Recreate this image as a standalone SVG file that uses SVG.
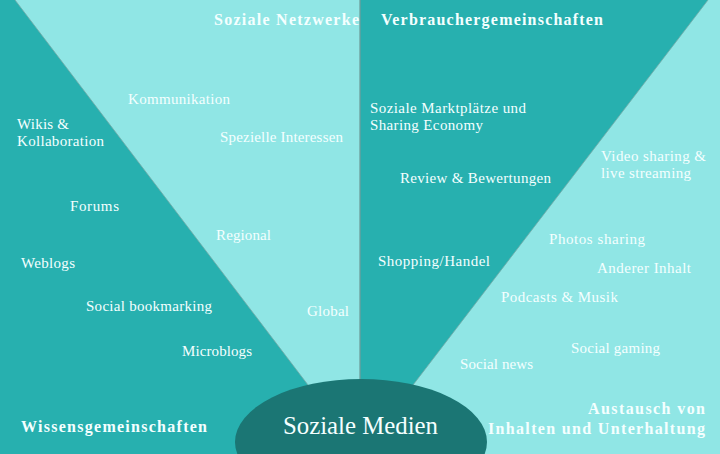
<svg xmlns="http://www.w3.org/2000/svg" width="720" height="454" viewBox="0 0 720 454">
<style>
.dark{fill:#27B0AF}
.light{fill:#90E6E5}
.edge{stroke:#74A9A7;stroke-width:0.8;fill:none}
text{font-family:"Liberation Serif","Times New Roman",serif;fill:#F4FFFF}
.lab{font-size:15px}
.head{font-size:16px;font-weight:bold}
.center{font-size:25px}
</style>
<g id="sectors">
<rect x="0" y="0" width="720" height="454" class="light"/>
<polygon class="dark" points="0,0 15,0 308,385 308,454 0,454"/>
<polygon class="dark" points="360,0 708,0 413,385 360,385"/>
</g>
<g id="dividers">
<line class="edge" x1="15" y1="0" x2="308" y2="385"/>
<line class="edge" x1="708" y1="0" x2="413" y2="385"/>
<line x1="360" y1="0" x2="360" y2="385" stroke="#6E9E9C" stroke-width="1.3"/>
</g>
<g id="soziale-medien">
<ellipse cx="361" cy="442" rx="126" ry="63" fill="#1B7674"/>
<text class="center" x="283" y="434" textLength="155" lengthAdjust="spacingAndGlyphs">Soziale Medien</text>
</g>
<g id="soziale-netzwerke">
<text class="head" x="214" y="25" textLength="145">Soziale Netzwerke</text>
<text class="lab" x="128" y="104" textLength="102">Kommunikation</text>
<text class="lab" x="220" y="142" textLength="123">Spezielle Interessen</text>
<text class="lab" x="216" y="240" textLength="55">Regional</text>
<text class="lab" x="307" y="316" textLength="42">Global</text>
</g>
<g id="wissensgemeinschaften">
<text class="head" x="21" y="432" textLength="186">Wissensgemeinschaften</text>
<text class="lab" x="17" y="129" textLength="52">Wikis &amp;</text>
<text class="lab" x="17" y="146" textLength="87">Kollaboration</text>
<text class="lab" x="70" y="211" textLength="49">Forums</text>
<text class="lab" x="21" y="268" textLength="54">Weblogs</text>
<text class="lab" x="86" y="311" textLength="126">Social bookmarking</text>
<text class="lab" x="182" y="356" textLength="70">Microblogs</text>
</g>
<g id="verbrauchergemeinschaften">
<text class="head" x="381" y="25" textLength="222">Verbrauchergemeinschaften</text>
<text class="lab" x="370" y="113" textLength="156">Soziale Marktplätze und</text>
<text class="lab" x="370" y="130" textLength="113">Sharing Economy</text>
<text class="lab" x="400" y="183" textLength="151">Review &amp; Bewertungen</text>
<text class="lab" x="378" y="266" textLength="112">Shopping/Handel</text>
</g>
<g id="austausch">
<text class="head" x="588" y="414" textLength="117">Austausch von</text>
<text class="head" x="488" y="434" textLength="217">Inhalten und Unterhaltung</text>
<text class="lab" x="601" y="161" textLength="105">Video sharing &amp;</text>
<text class="lab" x="601" y="178" textLength="90">live streaming</text>
<text class="lab" x="549" y="244" textLength="96">Photos sharing</text>
<text class="lab" x="597" y="273" textLength="94">Anderer Inhalt</text>
<text class="lab" x="501" y="302" textLength="117">Podcasts &amp; Musik</text>
<text class="lab" x="571" y="353" textLength="89">Social gaming</text>
<text class="lab" x="460" y="369" textLength="73">Social news</text>
</g>
</svg>
